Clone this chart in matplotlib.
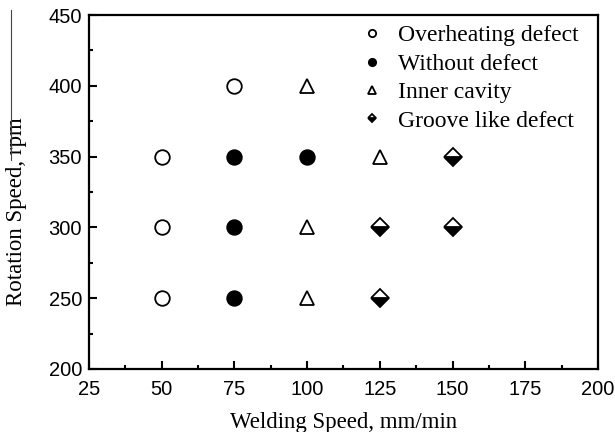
import matplotlib
matplotlib.use('Agg')
import matplotlib.pyplot as plt
from matplotlib.lines import Line2D

# ── DATA ──────────────────────────────────────────────────────────
overheat_x = [50, 50, 50, 75]
overheat_y = [250, 300, 350, 400]

no_defect_x = [75, 75, 75, 100]
no_defect_y = [250, 300, 350, 350]

cavity_x = [100, 100, 100, 125]
cavity_y = [250, 300, 400, 350]

groove_x = [125, 125, 150, 150]
groove_y = [250, 300, 300, 350]

x_ticks = [25, 50, 75, 100, 125, 150, 175, 200]
y_ticks = [200, 250, 300, 350, 400, 450]

# ── FIGURE ────────────────────────────────────────────────────────
fig = plt.figure(figsize=(6.15, 4.32), dpi=100)
ax = fig.add_axes([89 / 615, 1 - 369 / 432, (598 - 89) / 615, (369 - 15) / 432])

ms = 10.5
ax.plot(overheat_x, overheat_y, 'o', ms=ms, mfc='white', mec='black', mew=1.3,
        label='Overheating defect')
ax.plot(no_defect_x, no_defect_y, 'o', ms=ms, mfc='black', mec='black', mew=1.3,
        label='Without defect')
ax.plot(cavity_x, cavity_y, '^', ms=ms, mfc='white', mec='black', mew=1.3,
        label='Inner cavity')
ax.plot(groove_x, groove_y, 'D', ms=ms * 0.85, fillstyle='bottom', mfc='black',
        mfcalt='white', mec='black', mew=1.3, label='Groove like defect')

ax.set_xlim(25, 200)
ax.set_ylim(200, 450)
ax.set_xticks(x_ticks)
ax.set_yticks(y_ticks)
ax.set_xticks([37.5 + 25 * i for i in range(7)], minor=True)
ax.set_yticks([225 + 50 * i for i in range(5)], minor=True)

ax.tick_params(which='both', direction='in', width=1.5, colors='black')
ax.tick_params(which='major', length=6, labelsize=14.5)
ax.tick_params(axis='x', which='major', pad=8)
ax.tick_params(axis='y', which='major', pad=5)
ax.tick_params(which='minor', length=3)
for lab in ax.get_xticklabels() + ax.get_yticklabels():
    lab.set_family('Liberation Sans')
for sp in ax.spines.values():
    sp.set_linewidth(1.6)

ax.set_xlabel('Welding Speed, mm/min', family='Liberation Serif', fontsize=16.5)
ax.set_ylabel('Rotation Speed, rpm', family='Liberation Serif', fontsize=16.5)
ax.xaxis.set_label_coords(0.5, -0.122)
ax.yaxis.set_label_coords(-0.122, 0.445)

leg = ax.legend(loc='upper right', bbox_to_anchor=(0.961, 0.972), frameon=False,
                markerscale=0.5, prop={'family': 'Liberation Serif', 'size': 17},
                handletextpad=0.56, labelspacing=0.29, borderaxespad=0,
                borderpad=0, handlelength=1.0)

# thin line at upper left of the scan
fig.add_artist(Line2D([10.5 / 615, 10.5 / 615], [1 - 10 / 432, 1 - 160 / 432],
                      color='#444444', lw=0.8))

plt.savefig('out.png', dpi=100)
